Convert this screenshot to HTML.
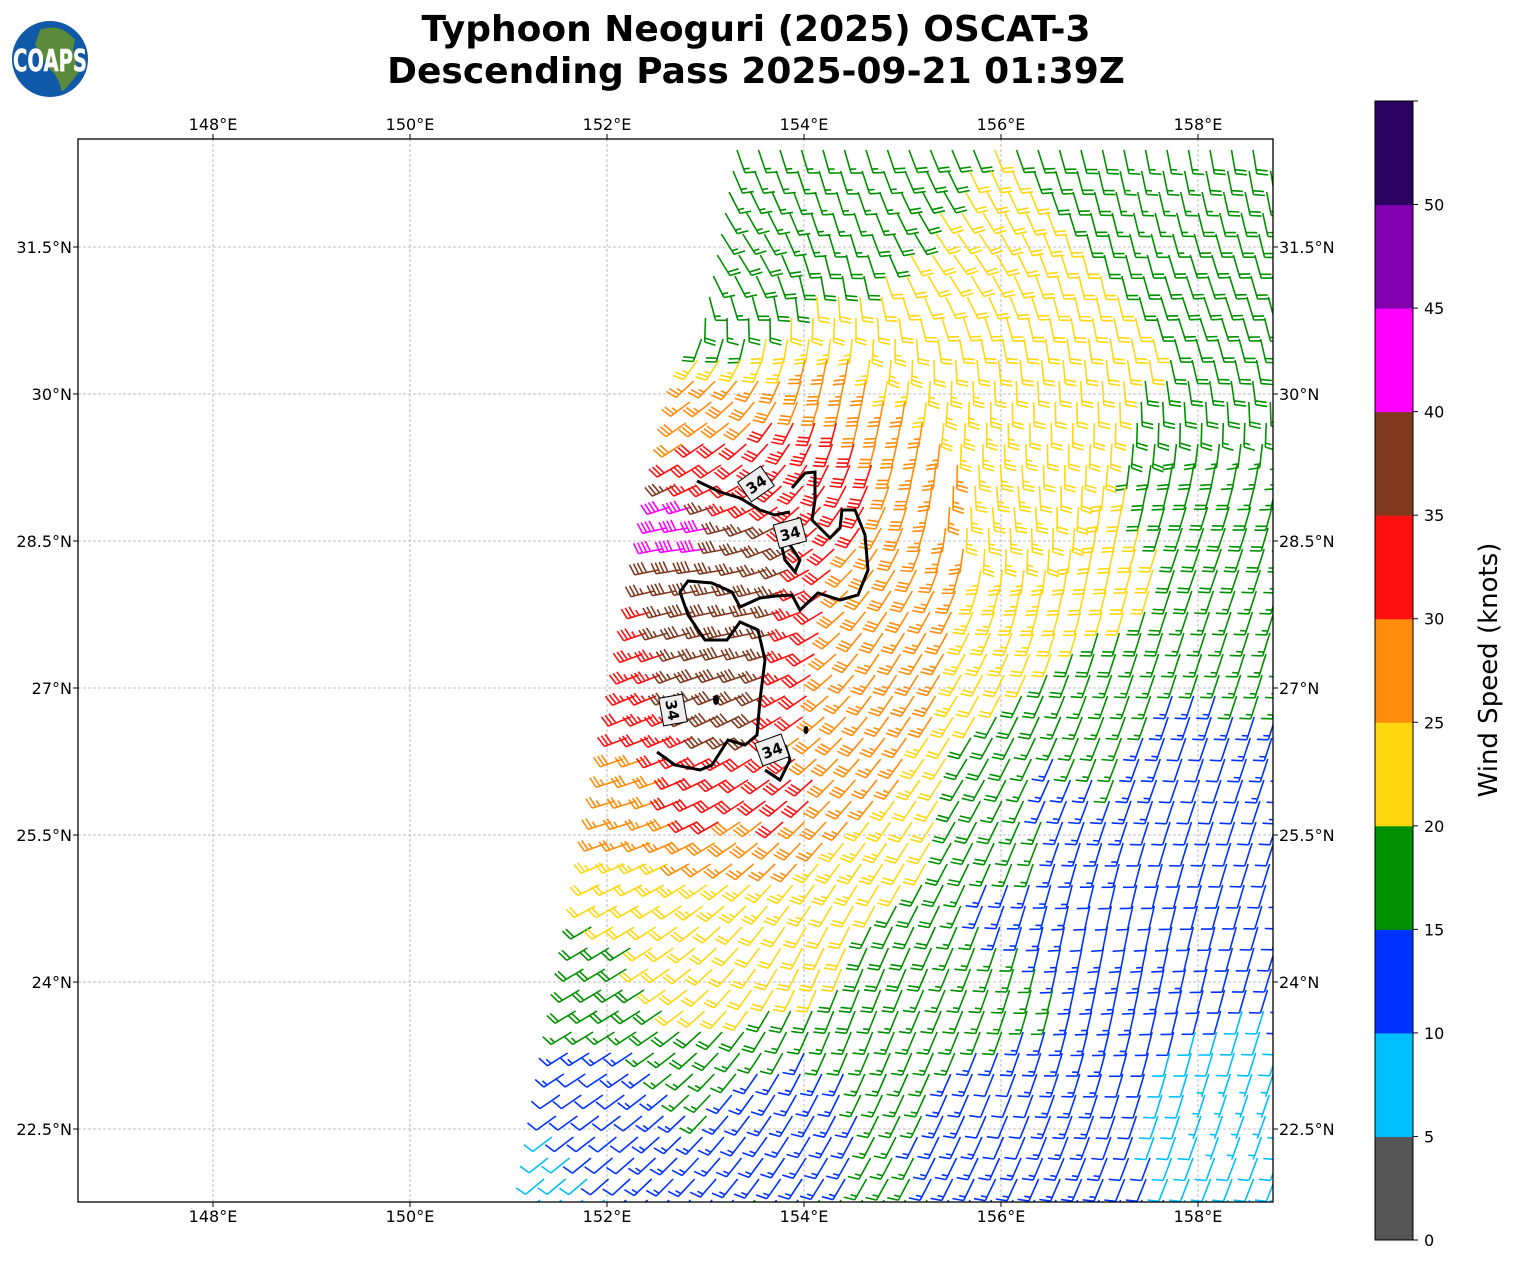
<!DOCTYPE html>
<html><head><meta charset="utf-8">
<style>
html,body{margin:0;padding:0;background:#fff;}
svg{display:block;font-family:"DejaVu Sans","Liberation Sans",sans-serif;}
</style></head>
<body>
<svg id="s" width="1513" height="1264" viewBox="0 0 1513 1264" xmlns="http://www.w3.org/2000/svg">
<defs><clipPath id="cp"><rect x="78" y="139" width="1195" height="1063"/></clipPath></defs>
<rect width="1513" height="1264" fill="#fff"/>
<text x="756" y="41" text-anchor="middle" font-size="36" font-weight="bold">Typhoon Neoguri (2025) OSCAT-3</text>
<text x="756" y="83" text-anchor="middle" font-size="36" font-weight="bold">Descending Pass 2025-09-21 01:39Z</text>
<circle cx="50" cy="59" r="38" fill="#1058a8"/>
<path d="M40 30 Q60 22 75 40 Q70 55 80 70 Q70 85 62 92 Q58 75 50 70 Q42 55 35 45Z" fill="#5a8a3a"/>
<text x="50" y="71" text-anchor="middle" font-size="30" font-weight="bold" fill="#fff" stroke="#fff" stroke-width="0.5" textLength="74" lengthAdjust="spacingAndGlyphs">COAPS</text>
<g id="grid" stroke="#aaa" stroke-width="0.8" stroke-dasharray="3,2"></g>
<g id="barbs" clip-path="url(#cp)" fill="none" stroke-width="1.6"></g>
<g clip-path="url(#cp)">
<path d="M697 481 L720 492 740 498 760 510 775 515 L790 512 M792 488 L805 473 815 472 815 500 812 520 830 538 840 528 842 510 855 510 865 535 868 570 858 595 840 600 818 593 800 610 792 595 776 596 760 598 740 607 732 592 712 583 688 581 680 592 688 615 705 640 727 640 740 622 758 630 765 660 760 700 757 735 745 745 728 740 712 765 700 770 675 765 657 752" fill="none" stroke="#000" stroke-width="3"/>
<path d="M790 545 800 560 795 572 785 560 780 540" fill="none" stroke="#000" stroke-width="3"/>
<path d="M765 770 780 780 790 760 785 745" fill="none" stroke="#000" stroke-width="3"/>
<ellipse cx="716" cy="700" rx="3" ry="5" fill="#000"/>
<ellipse cx="806" cy="730" rx="2.5" ry="4" fill="#000"/>
<g font-size="15" font-weight="bold" text-anchor="middle">
<g transform="translate(756,484) rotate(-35)"><rect x="-14" y="-12" width="28" height="24" fill="#eee" stroke="#000"/><text y="6">34</text></g>
<g transform="translate(790,533) rotate(-15)"><rect x="-14" y="-12" width="28" height="24" fill="#eee" stroke="#000"/><text y="6">34</text></g>
<g transform="translate(673,710) rotate(80)"><rect x="-14" y="-12" width="28" height="24" fill="#eee" stroke="#000"/><text y="6">34</text></g>
<g transform="translate(772,750) rotate(-20)"><rect x="-14" y="-12" width="28" height="24" fill="#eee" stroke="#000"/><text y="6">34</text></g>
</g>
</g>
<rect x="78" y="139" width="1195" height="1063" fill="none" stroke="#000" stroke-width="1.3"/>
<g id="ticks" font-size="16"></g>
<g id="cb"></g>
<text transform="translate(1497,670) rotate(-90)" text-anchor="middle" font-size="26">Wind Speed (knots)</text>
</svg>
<script>
var NS="http://www.w3.org/2000/svg";
function el(p,t,a,txt){var e=document.createElementNS(NS,t);for(var k in a)e.setAttribute(k,a[k]);if(txt!=null)e.textContent=txt;p.appendChild(e);return e;}
var X0=78,X1=1273,Y0=139,Y1=1202;
function lx(l){return 213+(l-148)*98.5;}
function ly(l){return 394+(30-l)*98;}
var grid=document.getElementById('grid'),ticks=document.getElementById('ticks');
[148,150,152,154,156,158].forEach(function(l){var x=lx(l);
el(grid,'line',{x1:x,y1:Y0,x2:x,y2:Y1});
el(ticks,'line',{x1:x,y1:Y0,x2:x,y2:Y0-5,stroke:'#000'});
el(ticks,'line',{x1:x,y1:Y1,x2:x,y2:Y1+5,stroke:'#000'});
el(ticks,'text',{x:x,y:130,'text-anchor':'middle'},l+'°E');
el(ticks,'text',{x:x,y:1222,'text-anchor':'middle'},l+'°E');});
[31.5,30,28.5,27,25.5,24,22.5].forEach(function(l){var y=ly(l);
el(grid,'line',{x1:X0,y1:y,x2:X1,y2:y});
el(ticks,'line',{x1:X0,y1:y,x2:X0-5,y2:y,stroke:'#000'});
el(ticks,'line',{x1:X1,y1:y,x2:X1+5,y2:y,stroke:'#000'});
var s=(l%1?l.toFixed(1):l)+'°N';
el(ticks,'text',{x:72,y:y+6,'text-anchor':'end'},s);
el(ticks,'text',{x:1279,y:y+6},s);});
var cols=['#555555','#00bfff','#0033ff','#009000','#ffd70f','#ff8c0a','#ff1010','#803a20','#ff00ff','#8000b0','#2a0060'];
var cb=document.getElementById('cb');var ch=(1240-101)/11;
for(var i=0;i<11;i++){el(cb,'rect',{x:1375,y:1240-(i+1)*ch,width:38,height:ch+0.5,fill:cols[i]});}
el(cb,'rect',{x:1375,y:101,width:38,height:1139,fill:'none',stroke:'#000'});
for(var i=0;i<=10;i++){var y=1240-i*ch;el(cb,'line',{x1:1413,y1:y,x2:1418,y2:y,stroke:'#000'});el(cb,'text',{x:1424,y:y+6,'font-size':16},i*5);}
el(cb,'line',{x1:1413,y1:101,x2:1418,y2:101,stroke:'#000'});
var A=[[680,530,43],[700,620,38],[760,560,37],[790,470,33],[720,460,31],[700,410,27],[720,300,17],[760,180,16],[850,200,17],[950,300,22],[1050,300,22],[1150,200,17],[1250,300,20],[1200,500,18],[1100,550,22],[1000,600,24],[900,600,28],[850,750,28],[800,800,31],[700,800,31],[620,820,26],[620,900,22],[600,950,18],[700,950,22],[800,950,22],[900,950,18],[1000,900,14],[1100,900,12],[1200,850,10],[1230,1100,7],[1000,1100,12],[800,1100,13],[600,1100,12],[540,1180,8],[900,1050,16],[950,1000,17],[900,700,26],[1000,750,19],[1100,700,17],[1250,650,16],[1250,450,17],[730,700,40],[640,650,33],[950,850,20],[850,850,24],[1050,780,14],[1200,750,12]];
var D=[[950,250,50],[1200,300,70],[730,250,50],[1200,550,110],[1000,500,80],[1100,950,100],[850,1000,110],[600,1000,150],[620,800,165],[700,550,180],[760,620,175],[900,650,120],[700,420,150],[850,400,100]];
function interp(x,y){var ws=0,v=0;for(var i=0;i<A.length;i++){var d=(x-A[i][0])*(x-A[i][0])+(y-A[i][1])*(y-A[i][1])+400;var w=1/Math.pow(d,1.6);ws+=w;v+=w*A[i][2];}return v/ws;}
function dir(x,y){var ws=0,v=0;for(var i=0;i<D.length;i++){var d=(x-D[i][0])*(x-D[i][0])+(y-D[i][1])*(y-D[i][1])+2000;var w=1/Math.pow(d,1.2);ws+=w;v+=w*D[i][2];}var a=v/ws*Math.PI/180;return [Math.cos(a),Math.sin(a)];}
var g=document.getElementById('barbs');
var dx=21.5,dy=21;
for(var y=150;y<1215;y+=dy){var left=737-(y-150)*(195/1040);
for(var x=left;x<1290;x+=dx){
var s=interp(x,y);var ci=Math.min(10,Math.floor(s/5));var c=cols[ci];
var u=dir(x,y);var L=24;var ex=x+u[0]*L,ey=y+u[1]*L;var px=-u[1],py=u[0];
if(py>0.1||(Math.abs(py)<=0.1&&px<0)){}else{px=-px;py=-py;}
px=-px;py=-py;
var d='M'+x.toFixed(1)+' '+y.toFixed(1)+'L'+ex.toFixed(1)+' '+ey.toFixed(1);
var r=Math.round(s/5)*5;var full=Math.floor(r/10),half=(r%10)>=5?1:0;var pos=0;
for(var k=0;k<full;k++){var bx=ex-u[0]*pos,by=ey-u[1]*pos;d+='M'+bx.toFixed(1)+' '+by.toFixed(1)+'l'+(px*11+u[0]*3).toFixed(1)+' '+(py*11+u[1]*3).toFixed(1);pos+=4;}
if(half){if(full==0)pos=4;var bx=ex-u[0]*pos,by=ey-u[1]*pos;d+='M'+bx.toFixed(1)+' '+by.toFixed(1)+'l'+(px*6+u[0]*1.5).toFixed(1)+' '+(py*6+u[1]*1.5).toFixed(1);}
el(g,'path',{d:d,stroke:c});}}
</script>
</body></html>
